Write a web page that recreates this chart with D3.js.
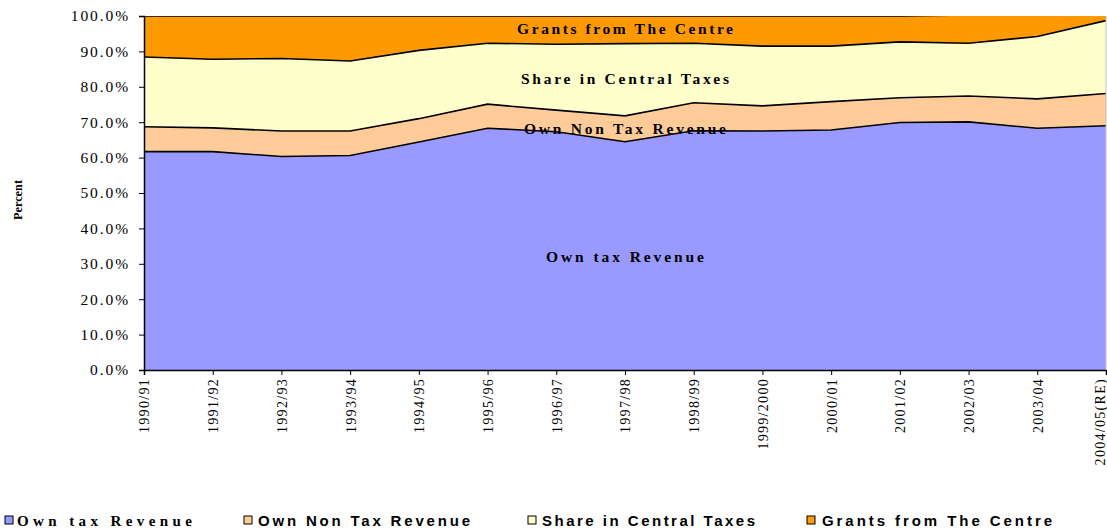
<!DOCTYPE html>
<html>
  <head>
    <title>Revenue composition</title>
    <style>
      body { margin: 0; background: #fff; }
      svg { display: block; }
    </style>
  </head>
  <body>
    <script src="https://d3js.org/d3.v7.min.js"></script>
    <script>
      const years = ["1990/91", "1991/92", "1992/93", "1993/94", "1994/95", "1995/96", "1996/97",
        "1997/98", "1998/99", "1999/2000", "2000/01", "2001/02", "2002/03", "2003/04", "2004/05(RE)"];
      const ownTax = [61.7, 61.7, 60.3, 60.6, 64.4, 68.3, 67.3, 64.5, 67.6, 67.5, 67.8, 69.9, 70.1, 68.3, 69.0];
      const ownNonTax = [7.0, 6.7, 7.2, 6.9, 6.6, 6.8, 6.1, 7.3, 7.9, 7.1, 8.0, 7.0, 7.3, 8.3, 9.1];
      const centralShare = [19.7, 19.4, 20.5, 19.8, 19.3, 17.2, 18.6, 20.4, 16.8, 16.9, 15.7, 15.8, 14.9, 17.6, 20.6];
      const grants = [11.6, 12.2, 12.0, 12.7, 9.7, 7.7, 8.0, 7.8, 7.7, 8.5, 8.5, 7.3, 8.0, 6.5, 2.0];
      const seriesNames = ["Own tax Revenue", "Own Non Tax Revenue", "Share in Central Taxes", "Grants from The Centre"];
      const colors = ["#9999ff", "#ffcc99", "#ffffcc", "#ff9900"];
      const yTicks = [0, 10, 20, 30, 40, 50, 60, 70, 80, 90, 100];

      const W = 1107, H = 531;
      const plotL = 144, plotR = 1106, plotT = 16, plotB = 370;

      const rows = years.map((yr, i) => ({
        year: yr, a: ownTax[i], b: ownNonTax[i], c: centralShare[i], d: grants[i]
      }));
      const stack = d3.stack().keys(["a", "b", "c", "d"])(rows);

      const x = d3.scalePoint().domain(years).range([plotL, plotR]);
      const y = d3.scaleLinear().domain([0, 100]).range([plotB, plotT]);

      const svg = d3.select("body").append("svg").attr("width", W).attr("height", H);

      svg.append("clipPath").attr("id", "plot")
        .append("rect").attr("x", plotL).attr("y", plotT).attr("width", plotR - plotL).attr("height", plotB - plotT);

      const g = svg.append("g").attr("clip-path", "url(#plot)");

      const area = d3.area()
        .x(d => x(d.data.year))
        .y0(d => y(d[0]))
        .y1(d => y(d[1]));
      const line = d3.line()
        .x(d => x(d.data.year))
        .y(d => y(d[1]));

      g.selectAll("path.area")
        .data(stack)
        .enter()
        .append("path")
        .attr("class", "area")
        .attr("d", area)
        .attr("fill", (d, i) => colors[i]);

      g.selectAll("path.edge")
        .data(stack)
        .enter()
        .append("path")
        .attr("class", "edge")
        .attr("d", line)
        .attr("fill", "none")
        .attr("stroke", "#000")
        .attr("stroke-width", 1.6);

      // thin right border
      svg.append("line")
        .attr("x1", plotR).attr("x2", plotR).attr("y1", plotT).attr("y2", plotB)
        .attr("stroke", "#c0c0c0").attr("stroke-width", 1);

      // y axis
      const yAxis = svg.append("g")
        .attr("transform", `translate(${plotL},0)`)
        .call(d3.axisLeft(y).tickValues(yTicks).tickSize(5).tickFormat(d => d.toFixed(1) + "%"));
      yAxis.select(".domain").attr("stroke", "#000").attr("stroke-width", 1.5);
      yAxis.selectAll(".tick line").attr("stroke", "#000");
      yAxis.selectAll(".tick text")
        .attr("x", -14)
        .attr("font-family", "Liberation Serif, Times New Roman, serif")
        .attr("font-size", 15.5)
        .attr("letter-spacing", "1.9px")
        .attr("fill", "#000");

      // x axis
      const xAxis = svg.append("g")
        .attr("transform", `translate(0,${plotB})`)
        .call(d3.axisBottom(x).tickSize(5));
      xAxis.select(".domain").attr("stroke", "#000").attr("stroke-width", 1.5);
      xAxis.selectAll(".tick line").attr("stroke", "#000");
      xAxis.selectAll(".tick text")
        .attr("transform", "rotate(-90)")
        .attr("x", -8)
        .attr("y", 0)
        .attr("dy", (d, i) => i === years.length - 1 ? "-0.1em" : "0.35em")
        .attr("text-anchor", "end")
        .attr("font-family", "Liberation Serif, Times New Roman, serif")
        .attr("font-size", 14)
        .attr("letter-spacing", "1.3px")
        .attr("fill", "#000");

      // y title
      svg.append("text")
        .attr("transform", "translate(22,200) rotate(-90)")
        .attr("text-anchor", "middle")
        .attr("font-family", "Liberation Serif, Times New Roman, serif")
        .attr("font-weight", "bold")
        .attr("font-size", 13)
        .attr("textLength", 40)
        .attr("lengthAdjust", "spacingAndGlyphs")
        .text("Percent");

      // in-chart labels
      const inLabels = [
        { t: "Grants from The Centre", yy: 34, w: 216 },
        { t: "Share in Central Taxes", yy: 84, w: 208 },
        { t: "Own Non Tax Revenue", yy: 134, w: 202 },
        { t: "Own tax Revenue", yy: 262, w: 158 }
      ];
      svg.selectAll("text.inlabel")
        .data(inLabels)
        .enter()
        .append("text")
        .attr("class", "inlabel")
        .attr("x", d => 625 - d.w / 2)
        .attr("y", d => d.yy)
        .attr("font-family", "Liberation Serif, Times New Roman, serif")
        .attr("font-weight", "bold")
        .attr("font-size", 15.5)
        .attr("textLength", d => d.w)
        .attr("lengthAdjust", "spacing")
        .text(d => d.t);

      // legend
      const legendItems = [
        { x: 5, tx: 17, w: 175, font: "Liberation Serif, Times New Roman, serif", fs: 15 },
        { x: 244, tx: 258, w: 212, font: "Liberation Sans Narrow, Liberation Sans, Arial, sans-serif", fs: 15 },
        { x: 528, tx: 542, w: 213, font: "Liberation Sans Narrow, Liberation Sans, Arial, sans-serif", fs: 15 },
        { x: 807, tx: 822, w: 230, font: "Liberation Sans Narrow, Liberation Sans, Arial, sans-serif", fs: 15 }
      ];
      const lg = svg.selectAll("g.legend")
        .data(legendItems)
        .enter()
        .append("g")
        .attr("class", "legend");
      lg.append("rect")
        .attr("x", d => d.x)
        .attr("y", 516)
        .attr("width", 8)
        .attr("height", 8)
        .attr("fill", (d, i) => colors[i])
        .attr("stroke", "#000")
        .attr("stroke-width", 1);
      lg.append("text")
        .attr("x", d => d.tx)
        .attr("y", 526)
        .attr("font-family", d => d.font)
        .attr("font-weight", "bold")
        .attr("font-size", d => d.fs)
        .attr("textLength", d => d.w)
        .attr("lengthAdjust", "spacing")
        .text((d, i) => seriesNames[i]);
    </script>
  </body>
</html>
